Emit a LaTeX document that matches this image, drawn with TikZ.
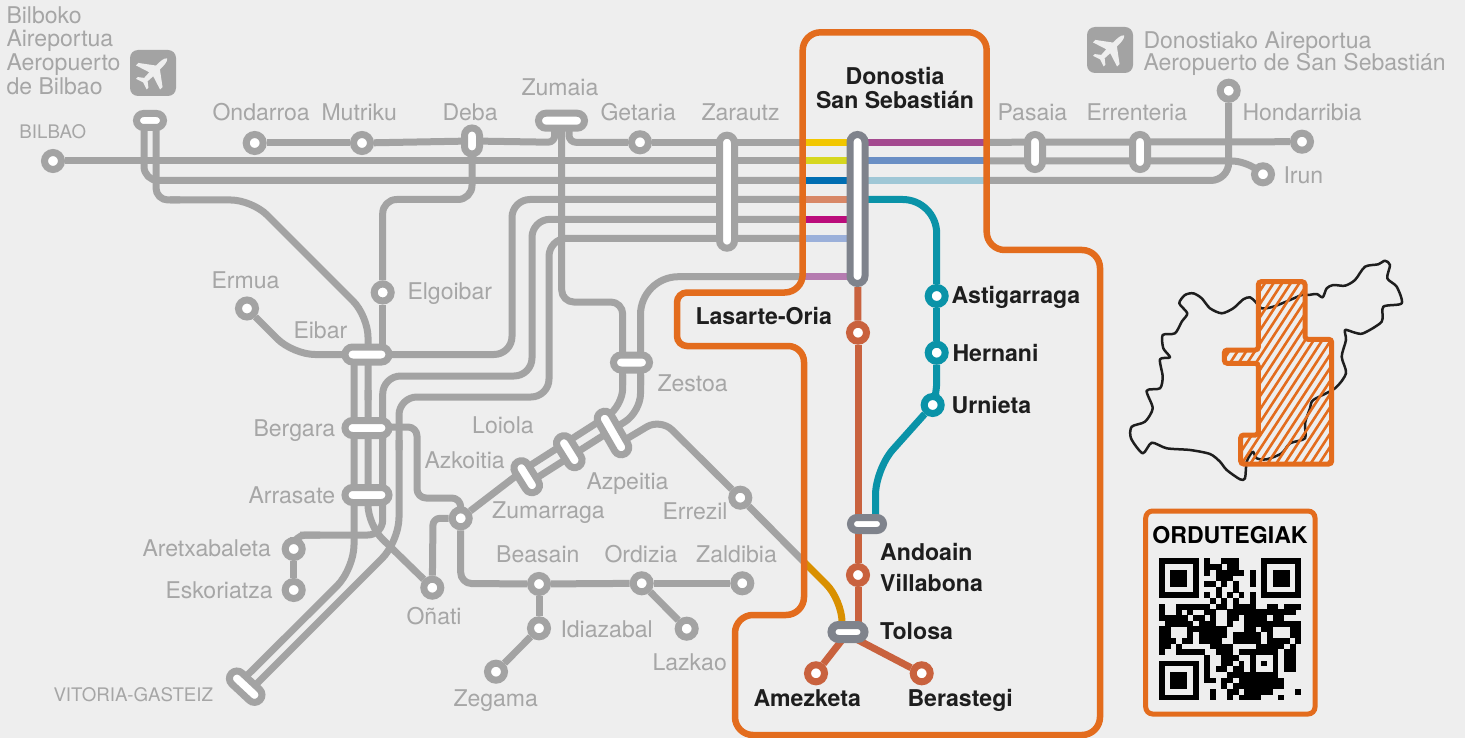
\documentclass[tikz,border=0pt]{standalone}
\usepackage{fontspec}
\setmainfont{TeX Gyre Heros}
\usetikzlibrary{shapes.misc}
\definecolor{bgc}{HTML}{EEEEEE}
\definecolor{gline}{HTML}{A3A3A3}
\definecolor{gtxt}{HTML}{A6A6A6}
\definecolor{dtxt}{HTML}{1E1E1E}
\definecolor{orng}{HTML}{E36C1D}
\definecolor{redl}{HTML}{C9623E}
\definecolor{teall}{HTML}{0A93A8}
\definecolor{pgray}{HTML}{7F838C}
\pgfdeclarelayer{bg}
\pgfdeclarelayer{ol}
\pgfsetlayers{bg,ol,main}
\tikzset{
  ln/.style={line width=7pt,gline,line join=round},
  lnc/.style={line width=7pt},
  stn/.style={circle,draw=#1,fill=white,line width=7pt,minimum size=17pt,inner sep=0pt},
  stn/.default=gline,
  pill/.style={rounded rectangle,draw=gline,fill=white,line width=7pt,inner sep=0pt,minimum height=15pt,minimum width=#1},
  gl/.style={font=\fontsize{23.05}{24}\selectfont,text=gtxt,anchor=base west,inner sep=0pt,xshift=-0.7pt,yshift=-1pt},
  gs/.style={font=\fontsize{18.7}{20}\selectfont,text=gtxt,anchor=base west,inner sep=0pt,xshift=-0.7pt,yshift=-0.5pt},
  bl/.style={font=\bfseries\fontsize{23.1}{24}\selectfont,text=dtxt,anchor=base west,inner sep=0pt,xshift=-0.7pt,yshift=-1pt},
  airb/.style={rectangle,rounded corners=8pt,fill=gline,minimum size=46pt,inner sep=0pt},
}
\newcommand{\planeshape}[2]{%
  \begin{scope}[shift={(#1,#2)},rotate=-45]
    \fill[bgc] (0,-20) .. controls (2.6,-18) and (2.8,-14) .. (2.8,-7) -- (17,3.5) -- (17,7) -- (2.8,2.5) -- (2.4,10) -- (7.5,14) -- (7.5,16.5) -- (0,14) -- (-7.5,16.5) -- (-7.5,14) -- (-2.4,10) -- (-2.8,2.5) -- (-17,7) -- (-17,3.5) -- (-2.8,-7) .. controls (-2.8,-14) and (-2.6,-18) .. (0,-20) -- cycle;
  \end{scope}}
\begin{document}
\begin{tikzpicture}[x=1pt,y=-1pt]
\useasboundingbox (0,0) rectangle (1465,738);
\begin{pgfonlayer}{bg}
\fill[bgc] (0,0) rectangle (1465,738);
\end{pgfonlayer}

% ---------- map of the province
\draw[line width=2.5pt,dtxt,line join=round] plot[smooth cycle,tension=0.45] coordinates {
(1179.3,303.3)(1185,295)(1193.3,293.3)(1201.7,298.3)(1210,308.3)(1221.7,313.3)(1233.3,308.3)(1243.3,299.3)(1250,297.3)(1255.3,301.7)(1261.7,308.3)(1273.3,306.7)(1290,300)(1301.7,295)(1308.3,295)(1316.7,294)(1322.7,297.3)(1326.7,288.3)(1333.3,285)(1345,285.7)(1355,280)(1365,266.7)(1378.3,264.3)(1385,260.7)(1390,265)(1387.3,278.3)(1396.7,286.7)(1401.7,303.3)(1383.3,306.7)(1381.7,321.7)(1363.3,333.3)(1355,332.7)(1345,330)(1346,340)(1341.7,356.7)(1346,373.3)(1335,388.3)(1313.3,400)(1310,408.3)(1305,423.3)(1305,438.3)(1290,443.3)(1281.7,453.3)(1266.7,459.3)(1256.7,458.3)(1252.7,451.7)(1246.7,461.7)(1245,478.3)(1240,479.3)(1226.7,470)(1220,461.7)(1210,454)(1190,450)(1166.7,448.3)(1151.7,442.7)(1142.7,453.3)(1131,438.3)(1131.7,426.7)(1145,421.7)(1152.7,408.3)(1146.7,390.7)(1160,388.3)(1162.7,376.7)(1160,359.3)(1170,357.3)(1163.3,348.3)(1162.7,335)(1175,333.3)(1181.7,321.7)(1187.3,313.3)};
% ---------- hatched area
\begin{scope}
\clip[rounded corners=3pt] (1258.3,281.7) -- (1305,281.7) -- (1305,339.3) -- (1331.7,339.3) -- (1331.7,464) -- (1240.7,464) -- (1240.7,435) -- (1258.3,435) -- (1258.3,363.3) -- (1224.3,363.3) -- (1224.3,350) -- (1258.3,350) -- cycle;
\foreach \i in {0,...,30} {
  \draw[orng,line width=2.6pt] ({1100+8.6*\i},470) -- ({1100+8.6*\i+124},280);
}
\end{scope}
\draw[orng,line width=5pt,rounded corners=3pt] (1258.3,281.7) -- (1305,281.7) -- (1305,339.3) -- (1331.7,339.3) -- (1331.7,464) -- (1240.7,464) -- (1240.7,435) -- (1258.3,435) -- (1258.3,363.3) -- (1224.3,363.3) -- (1224.3,350) -- (1258.3,350) -- cycle;

% ---------- stations
\node[stn] (ondarroa) at (254.7,143) {};
\node[stn] (mutriku) at (362,143) {};
\node[stn] (bilbao) at (53,161) {};
\node[stn] (elgoibar) at (382.7,292.5) {};
\node[stn] (ermua) at (247,308.5) {};
\node[stn] (getaria) at (640,142.3) {};
\node[stn] (hondarribia) at (1302,141.7) {};
\node[stn] (irun) at (1263,174.3) {};
\node[stn] (donair) at (1228.7,90.7) {};
\node[stn] (aretx) at (293.7,549) {};
\node[stn] (eskor) at (293.7,590) {};
\node[stn] (onati) at (432.3,587.7) {};
\node[stn] (zumarraga) at (460.7,518.3) {};
\node[stn] (beasain) at (539,584) {};
\node[stn] (idiazabal) at (539,628.3) {};
\node[stn] (zegama) at (496,671.7) {};
\node[stn] (ordizia) at (641.7,583.3) {};
\node[stn] (zaldibia) at (742.3,583.3) {};
\node[stn] (lazkao) at (686.7,628.7) {};
\node[stn] (errezil) at (740.3,497.7) {};
\node[stn=redl] (lasarte) at (858,332.7) {};
\node[stn=redl] (villabona) at (858,575) {};
\node[stn=redl] (amezketa) at (816,673.3) {};
\node[stn=redl] (berastegi) at (921.7,673.3) {};
\node[stn=teall] (astig) at (936.7,296) {};
\node[stn=teall] (hernani) at (936.7,352.7) {};
\node[stn=teall] (urnieta) at (932.7,405) {};

% ---------- interchange pills
\node[pill=27pt,minimum height=14pt] (pbilbair) at (150,120.5) {};
\node[pill=26pt,rotate=90] (pdeba) at (472,141) {};
\node[pill=46pt] (pzumaia) at (561.5,120.7) {};
\node[pill=113pt,rotate=90] (pzarautz) at (727,191.7) {};
\node[pill=35pt,rotate=90] (ppasaia) at (1035,152) {};
\node[pill=35pt,rotate=90] (perrent) at (1140,152) {};
\node[pill=44pt] (peibar) at (367,354.5) {};
\node[pill=44pt] (pbergara) at (367,428) {};
\node[pill=44pt] (parrasate) at (367,495) {};
\node[pill=36pt] (pzestoa) at (631.5,362.5) {};
\node[pill=35pt,rotate=-58] (pazkoitia) at (526.7,476.7) {};
\node[pill=35pt,rotate=-58] (ploiola) at (569.3,451.7) {};
\node[pill=48pt,rotate=-60] (pazpeitia) at (613,433) {};
\node[pill=39pt,rotate=-43] (pvitoria) at (245.7,686.7) {};
\node[pill=149pt,draw=pgray,rotate=90] (pdonostia) at (857.5,209) {};
\node[pill=33pt,draw=pgray,minimum height=13pt] (pandoain) at (867,524) {};
\node[pill=33pt,draw=pgray,line width=8pt,minimum height=14pt] (ptolosa) at (848,632) {};

% ---------- named line ends
\coordinate (w142) at (803,142.3);
\coordinate (w161) at (803,161);
\coordinate (w181) at (803,180.5);
\coordinate (w200) at (803,199.5);
\coordinate (w219) at (803,219.3);
\coordinate (w238) at (803,238.3);
\coordinate (w277) at (803,276.7);
\coordinate (d142) at (857,142.3);
\coordinate (d161) at (857,161);
\coordinate (d181) at (857,180.5);
\coordinate (d200) at (857,199.5);
\coordinate (d219) at (857,219.3);
\coordinate (d238) at (857,238.3);
\coordinate (d277) at (857,276.7);
\coordinate (e142) at (986,142.3);
\coordinate (e161) at (986,161);
\coordinate (e181) at (986,180.5);
\coordinate (vitA) at (241,681.5);
\coordinate (vitB) at (250.5,690);
\coordinate (airA) at (144,121);
\coordinate (airB) at (156,121);
\coordinate (z1) at (554,121);
\coordinate (z2) at (569,121);
\coordinate (zv) at (561.7,121);
\coordinate (azU) at (526.7,467.7);
\coordinate (azL) at (526.7,484.3);
\coordinate (apE) at (618,444);
\coordinate (spl) at (803,561);
\coordinate (tolY) at (842,632);
\coordinate (tolR) at (858,632);
\coordinate (tolA) at (842,640);
\coordinate (tolB) at (858,640);
\coordinate (andR) at (858,524);
\coordinate (andT) at (875.5,524);
\coordinate (ebL) at (354,354.5);
\coordinate (ebC) at (368,354.5);
\coordinate (ebR) at (382.7,354.5);
\coordinate (bgR) at (385,427);

\begin{pgfonlayer}{bg}
% upper trunk lines
\draw[ln] (ondarroa) -- (mutriku);
\draw[ln] (mutriku) -- (pdeba);
\draw[ln,rounded corners=7pt] (pdeba) -- (555,142.3) -- (z1);
\draw[ln,rounded corners=7pt] (z2) -- (569,142.3) -- (getaria);
\draw[ln] (getaria) -- (w142);
\draw[ln] (bilbao) -- (w161);
\draw[ln,rounded corners=14pt] (airA) -- (144,180.5) -- (w181);
\draw[ln] (e142) -- (hondarribia);
\draw[ln,rounded corners=13pt] (e161) -- (1245,161) -- (irun);
\draw[ln,rounded corners=18pt] (e181) -- (1228.7,180.5) -- (donair);
% airport line to Onati
\draw[ln,rounded corners=12pt] (airB) -- (156,200) -- (180,200);
\draw[ln,rounded corners=21pt] (170,200) -- (252,200) -- (368,316) -- (368,400);
\draw[ln,rounded corners=20pt] (368,390) -- (368,525) -- (onati);
% Deba to Elgoibar, Eibar
\draw[ln,rounded corners=14pt] (pdeba) -- (472,199.5) -- (382.7,199.5) -- (elgoibar);
\draw[ln] (elgoibar) -- (ebR);
% the three bending lines
\draw[ln,rounded corners=18pt] (w200) -- (512,199.5) -- (512,354.5) -- (ebC);
\draw[ln,rounded corners=22pt] (ebC) -- (293,354.5) -- (ermua);
\draw[ln,rounded corners=18pt] (w219) -- (532,219.3) -- (532,376) -- (382.7,376) -- (382.7,440);
\draw[ln,rounded corners=15pt] (382.7,430) -- (382.7,535) -- (300,535);
\draw[ln,rounded corners=12pt] (320,535) -- (293.7,535) -- (aretx);
\draw[ln] (aretx) -- (eskor);
\draw[ln,rounded corners=18pt] (w238) -- (549,238.3) -- (549,397) -- (399,397) -- (399,450);
\draw[ln,rounded corners=24pt] (399,440) -- (399,541.5) -- (vitB);
\draw[ln,rounded corners=24pt] (ebL) -- (354,569) -- (vitA);
% Bergara to Zumarraga
\draw[ln,rounded corners=9pt] (bgR) -- (417,427) -- (417,498) -- (460.7,498) -- (zumarraga);
\draw[ln,rounded corners=7pt] (zumarraga) -- (433,518.3) -- (onati);
\draw[ln,rounded corners=11pt] (zumarraga) -- (460.7,583.5) -- (beasain);
\draw[ln] (beasain) -- (ordizia);
\draw[ln] (ordizia) -- (zaldibia);
\draw[ln] (ordizia) -- (lazkao);
\draw[ln] (beasain) -- (idiazabal);
\draw[ln] (idiazabal) -- (zegama);
% Zumaia to Zestoa and Zumarraga
\draw[ln,rounded corners=12pt] (zv) -- (561.7,302) -- (622.7,302) -- (622.7,385);
\draw[ln,rounded corners=18pt] (622.7,375) -- (622.7,406.3) -- (azU);
\draw[ln] (azU) -- (zumarraga);
\draw[ln,rounded corners=38pt] (w277) -- (640.5,276.7) -- (640.5,385);
\draw[ln,rounded corners=18pt] (640.5,375) -- (640.5,411.8) -- (azL);
% Errezil
\draw[ln,rounded corners=16pt] (apE) -- (660.6,418.6) -- (errezil);
\draw[ln] (errezil) -- (spl);
% coloured trunk
\draw[lnc,color={rgb,255:red,242;green,199;blue,0}] (w142) -- (d142);
\draw[lnc,color={rgb,255:red,214;green,215;blue,31}] (w161) -- (d161);
\draw[lnc,color={rgb,255:red,0;green,110;blue,178}] (w181) -- (d181);
\draw[lnc,color={rgb,255:red,216;green,135;blue,103}] (w200) -- (d200);
\draw[lnc,color={rgb,255:red,187;green,13;blue,123}] (w219) -- (d219);
\draw[lnc,color={rgb,255:red,155;green,176;blue,218}] (w238) -- (d238);
\draw[lnc,color={rgb,255:red,181;green,123;blue,176}] (w277) -- (d277);
\draw[lnc,color={rgb,255:red,164;green,73;blue,143}] (d142) -- (e142);
\draw[lnc,color={rgb,255:red,106;green,143;blue,197}] (d161) -- (e161);
\draw[lnc,color={rgb,255:red,159;green,199;blue,214}] (d181) -- (e181);
% teal and red lines
\draw[lnc,teall,rounded corners=34pt] (d200) -- (936.7,199.5) -- (astig);
\draw[lnc,teall] (astig) -- (hernani);
\draw[lnc,teall,rounded corners=10pt] (hernani) -- (936.7,392) -- (urnieta);
\draw[lnc,teall,rounded corners=26pt] (urnieta) -- (875.5,469) -- (andT);
\draw[lnc,redl] (pdonostia) -- (lasarte);
\draw[lnc,redl] (lasarte) -- (andR);
\draw[lnc,redl] (andR) -- (villabona);
\draw[lnc,redl] (villabona) -- (tolR);
\draw[lnc,redl] (tolA) -- (amezketa);
\draw[lnc,redl] (tolB) -- (berastegi);
\draw[lnc,color={rgb,255:red,217;green,144;blue,0},rounded corners=22pt] (spl) -- (842,600) -- (tolY);
\end{pgfonlayer}
\begin{pgfonlayer}{ol}
\draw[orng,line width=6.5pt,rounded corners=18pt] (895,32.3) -- (986.7,32.3) -- (986.7,250) -- (1100,250) -- (1100,735) -- (735,735) -- (735,615) -- (804,615) [rounded corners=16pt] -- (804,346) [rounded corners=10pt] -- (677,346) -- (677,292.5) [rounded corners=18pt] -- (802.7,292.5) -- (802.7,32.3) -- cycle;
\draw[orng,line width=5pt,rounded corners=7pt] (1145.7,511) rectangle (1315,714);
\end{pgfonlayer}

% ---------- airport icons
\node[airb] (bilair) at (153,73) {};
\planeshape{153}{72.5}
\node[airb] (sanair) at (1110,50) {};
\planeshape{1110}{49.5}

% ---------- QR code
\begin{scope}[shift={(1159,558.3)},x=5.68pt,y=-5.68pt]
  \foreach \ox/\oy in {0/0,18/0,0/18} {
    \fill[black] (\ox,\oy) rectangle ++(7,7);
    \fill[bgc] (\ox+1,\oy+1) rectangle ++(5,5);
    \fill[black] (\ox+2,\oy+2) rectangle ++(3,3);
  }
  \foreach \r/\cols in {
    0/{8,11,12,13},
    1/{8,9,10,12,13},
    2/{8,10,11,12,13,14,16},
    3/{10,11,12,16},
    4/{8,9,11,13,16},
    5/{10,13},
    6/{8,10,12,14,16},
    7/{9,11,13,16},
    8/{0,3,4,5,6,7,8,10,11,13,14,15,16,19,20,22,23,24},
    9/{0,3,5,8,9,12,13,14,15,16,17,18,19,20,21,22,23},
    10/{0,1,2,3,4,6,7,9,12,13,15,16,17,18,20,21},
    11/{1,2,3,4,5,7,8,9,12,15,16,17,18,19,20,21,22,23,24},
    12/{0,1,5,6,7,8,9,10,11,15,16,18,19,23,24},
    13/{0,1,5,7,8,9,10,11,13,14,15,16,17,19,23,24},
    14/{0,1,2,4,5,7,8,9,10,13,14,15,16,17,19,20,21,22,24},
    15/{0,1,3,9,10,11,12,17,18,19,20,21,23},
    16/{0,3,4,5,6,7,10,11,12,14,15,16,17,18,19,20,22,23},
    17/{8,11,12,13,16,20,22,23},
    18/{8,11,12,14,16,18,20,22,23},
    19/{8,10,11,13,14,16,20,22,23},
    20/{8,12,13,14,15,16,17,18,19,20},
    21/{8,9,11,12,14,15,16,17,18,19,20,21},
    22/{11,13,14,15,16,17,18,19,20,21},
    23/{9,12,13,15,16,17,18,19,24},
    24/{9,12,14,15,16,17,21}} {
    \foreach \c in \cols { \fill[black] (\c,\r) rectangle ++(1.03,1.03); }
  }
\end{scope}

% ---------- labels
\node[gl,align=left,anchor=north west,font=\fontsize{23.05}{23.8}\selectfont] (tbil) at (7,5) {Bilboko\\Aireportua\\Aeropuerto\\de Bilbao};
\node[gl,align=left,anchor=north west,font=\fontsize{23.05}{22.6}\selectfont] (tsan) at (1144,30) {Donostiako Aireportua\\Aeropuerto de San Sebastián};
\node[gl] (tond) at (213,120) {Ondarroa};
\node[gl] (tmut) at (322,120) {Mutriku};
\node[gl] (tdeb) at (443,120) {Deba};
\node[gl] (tzum) at (522,95) {Zumaia};
\node[gl] (tget) at (601,120) {Getaria};
\node[gl] (tzar) at (702,120) {Zarautz};
\node[gl] (tpas) at (998,120) {Pasaia};
\node[gl] (terr) at (1087,120) {Errenteria};
\node[gl] (thon) at (1243,120) {Hondarribia};
\node[gl] (tiru) at (1284,183) {Irun};
\node[gs] (tbbo) at (20,138.5) {BILBAO};
\node[gl] (term) at (212,287) {Ermua};
\node[gl] (telg) at (408,298) {Elgoibar};
\node[gl] (teib) at (294,337) {Eibar};
\node[gl] (tber) at (254,435) {Bergara};
\node[gl] (tarr) at (249,502) {Arrasate};
\node[gl] (tare) at (143,555) {Aretxabaleta};
\node[gl] (tesk) at (166,597) {Eskoriatza};
\node[gl] (tloi) at (472.7,432) {Loiola};
\node[gl] (tazk) at (425,467) {Azkoitia};
\node[gl] (tazp) at (587,488) {Azpeitia};
\node[gl] (tzma) at (492.7,517.7) {Zumarraga};
\node[gl] (tzes) at (658,390) {Zestoa};
\node[gl] (trez) at (663,518) {Errezil};
\node[gl] (tbea) at (496.7,561.7) {Beasain};
\node[gl] (tord) at (605,561.7) {Ordizia};
\node[gl] (tzal) at (696.7,561.7) {Zaldibia};
\node[gl] (tidi) at (561,636.7) {Idiazabal};
\node[gl] (tlaz) at (653,669) {Lazkao};
\node[gl] (tona) at (407,623) {Oñati};
\node[gl] (tzeg) at (454,705.7) {Zegama};
\node[gs] (tvit) at (54,701) {VITORIA-GASTEIZ};
\node[bl,align=center,anchor=north] (tdon) at (895.7,66) {Donostia\\San Sebastián};
\node[bl] (tlas) at (696,323) {Lasarte-Oria};
\node[bl] (tast) at (952,302.7) {Astigarraga};
\node[bl] (ther) at (953,360) {Hernani};
\node[bl] (turn) at (952,412) {Urnieta};
\node[bl] (tand) at (880.7,559) {Andoain};
\node[bl] (tvil) at (880.7,590.7) {Villabona};
\node[bl] (ttol) at (880.7,638) {Tolosa};
\node[bl] (tame) at (754,705) {Amezketa};
\node[bl] (tbrs) at (908,705) {Berastegi};
\node[bl,anchor=base,text=black] (tord2) at (1230.7,542.7) {ORDUTEGIAK};
\end{tikzpicture}
\end{document}
